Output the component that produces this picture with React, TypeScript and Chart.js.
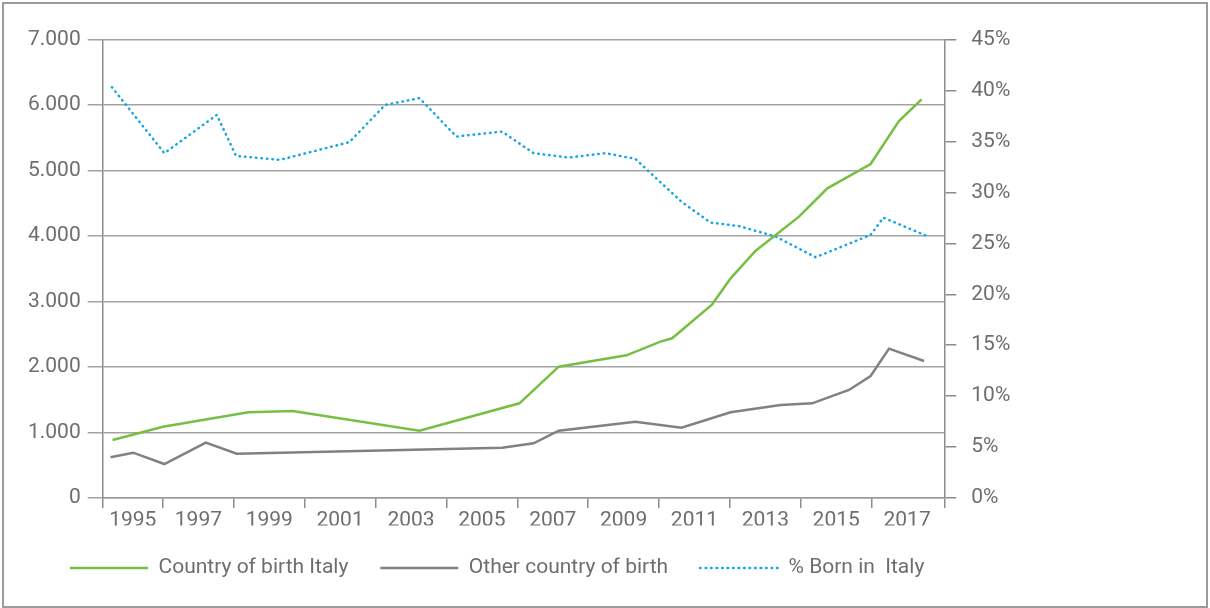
import React, { useEffect, useRef } from 'react';
import { Chart, registerables } from 'chart.js';

Chart.register(...registerables);

// Country of birth Italy (left axis)
const italyYears = [1994.58, 1996.0, 1998.41, 1999.66, 2003.24, 2006.06, 2007.17, 2009.08, 2010.04, 2010.37, 2011.5, 2012.02, 2012.72, 2013.95, 2014.75, 2015.97, 2016.77, 2017.41];
const italyValues = [886, 1089, 1309, 1329, 1028, 1446, 2006, 2179, 2388, 2439, 2958, 3355, 3773, 4297, 4730, 5101, 5758, 6090];

// Other country of birth (left axis)
const otherYears = [1994.52, 1995.16, 1996.04, 1997.21, 1998.08, 2005.57, 2006.46, 2007.17, 2009.33, 2010.63, 2012.02, 2013.43, 2014.32, 2015.36, 2015.97, 2016.49, 2017.48];
const otherValues = [621, 692, 519, 845, 677, 768, 835, 1028, 1166, 1074, 1309, 1420, 1446, 1650, 1863, 2281, 2093];

// % Born in Italy (right axis)
const shareYears = [1994.56, 1996.04, 1997.52, 1998.06, 1999.3, 2001.26, 2002.27, 2003.24, 2004.28, 2005.57, 2006.46, 2007.45, 2008.49, 2009.33, 2010.63, 2011.45, 2012.25, 2013.29, 2014.42, 2015.97, 2016.33, 2017.53];
const shareValues = [40.34, 33.86, 37.62, 33.6, 33.2, 34.94, 38.6, 39.26, 35.49, 35.98, 33.86, 33.43, 33.86, 33.3, 29.1, 27.05, 26.7, 25.67, 23.64, 25.83, 27.53, 25.77];

// Tick labels
const xLabelYears = [1995, 1997, 1999, 2001, 2003, 2005, 2007, 2009, 2011, 2013, 2015, 2017];
const xMarkYears = [1996, 1998, 2000, 2002, 2004, 2006, 2008, 2010, 2012, 2014, 2016];
const X_MIN = 1994.3;
const X_MAX = 2018.05;

const seriesLabels = ['Country of birth Italy', 'Other country of birth', '% Born in  Italy'];

const TEXT = '#6d6e71';
const FONT = 'Roboto, "DejaVu Sans", sans-serif';
const FONT_SIZE = 21;

const toPoints = (xs: number[], ys: number[]) => xs.map((x, i) => ({ x, y: ys[i] }));
const fmtThousands = (v: number) => String(v).replace(/\B(?=(\d{3})+(?!\d))/g, '.');

export default function App() {
  const ref = useRef<HTMLCanvasElement>(null);

  useEffect(() => {
    const legendShift = {
      id: 'legendShift',
      afterLayout(chart: any) {
        if (chart.legend) {
          chart.legend.left = 34;
        }
      },
    };

    const chart = new Chart(ref.current as HTMLCanvasElement, {
      type: 'line',
      data: {
        datasets: [
          {
            label: seriesLabels[0],
            data: toPoints(italyYears, italyValues),
            borderColor: '#77bf43',
            backgroundColor: '#77bf43',
            borderWidth: 2.5,
            pointRadius: 0,
            tension: 0,
            yAxisID: 'y',
          },
          {
            label: seriesLabels[1],
            data: toPoints(otherYears, otherValues),
            borderColor: '#808184',
            backgroundColor: '#808184',
            borderWidth: 2.5,
            pointRadius: 0,
            tension: 0,
            yAxisID: 'y',
          },
          {
            label: seriesLabels[2],
            data: toPoints(shareYears, shareValues),
            borderColor: '#0fa5e6',
            backgroundColor: '#0fa5e6',
            borderWidth: 2.5,
            borderDash: [0.5, 5],
            borderCapStyle: 'round',
            pointRadius: 0,
            tension: 0,
            yAxisID: 'y1',
          },
        ],
      },
      options: {
        animation: false,
        responsive: true,
        maintainAspectRatio: false,
        layout: { padding: { top: 35.7, left: 0, right: 0, bottom: 17.5 } },
        plugins: {
          tooltip: { enabled: false },
          legend: {
            position: 'bottom',
            align: 'start',
            labels: {
              usePointStyle: true,
              pointStyle: 'line',
              pointStyleWidth: 78,
              padding: 32,
              color: TEXT,
              font: { family: FONT, size: FONT_SIZE },
              generateLabels: (c: any) => {
                const items = Chart.defaults.plugins.legend.labels.generateLabels(c);
                return items.map((item: any) => {
                  const ds: any = c.data.datasets[item.datasetIndex];
                  return {
                    ...item,
                    strokeStyle: ds.borderColor,
                    fillStyle: ds.borderColor,
                    lineWidth: ds.datasetIndex === 1 ? 3 : ds.borderWidth,
                    lineDash: ds.borderDash || [],
                    lineCap: ds.borderCapStyle || 'butt',
                    fontColor: TEXT,
                  };
                });
              },
            },
          },
        },
        scales: {
          x: {
            type: 'linear',
            min: X_MIN,
            max: X_MAX,
            afterBuildTicks: (scale: any) => {
              const ticks: any[] = [{ value: X_MIN, isMark: true }];
              xLabelYears.forEach((yr) => {
                ticks.push({ value: Math.max(yr, (X_MIN + yr + 1) / 2), isMark: false, year: yr });
              });
              xMarkYears.forEach((yr) => ticks.push({ value: yr, isMark: true }));
              ticks.push({ value: X_MAX, isMark: true });
              ticks.sort((a, b) => a.value - b.value);
              scale.ticks = ticks;
            },
            afterFit: (scale: any) => {
              scale.height = 27.5;
            },
            ticks: {
              autoSkip: false,
              maxRotation: 0,
              minRotation: 0,
              padding: 0,
              color: TEXT,
              font: { family: FONT, size: FONT_SIZE },
              callback: function (value: any, index: number, ticks: any[]) {
                const t = ticks[index];
                return t && !t.isMark ? String(t.year ?? Math.round(value)) : '';
              },
            },
            grid: {
              drawOnChartArea: false,
              drawTicks: true,
              tickLength: 10,
              lineWidth: 1.5,
              color: (ctx: any) => (ctx.tick && ctx.tick.isMark ? '#8c8c8c' : 'rgba(0,0,0,0)'),
            },
            border: { display: true, color: '#9a9a9a', width: 1.5 },
          },
          y: {
            type: 'linear',
            position: 'left',
            min: 0,
            max: 7000,
            afterFit: (scale: any) => {
              scale.width = 98.7;
            },
            ticks: {
              stepSize: 1000,
              padding: 7,
              color: TEXT,
              font: { family: FONT, size: FONT_SIZE },
              callback: (v: any) => fmtThousands(Number(v)),
            },
            grid: {
              color: '#a3a3a3',
              lineWidth: 1.5,
              tickLength: 15,
            },
            border: { display: true, color: '#8c8c8c', width: 1.5 },
          },
          y1: {
            type: 'linear',
            position: 'right',
            min: 0,
            max: 45,
            afterFit: (scale: any) => {
              scale.width = 261.7;
            },
            ticks: {
              stepSize: 5,
              padding: 15,
              color: TEXT,
              font: { family: FONT, size: FONT_SIZE },
              callback: (v: any) => `${v}%`,
            },
            grid: {
              drawOnChartArea: false,
              color: '#8c8c8c',
              lineWidth: 1.5,
              tickLength: 12,
            },
            border: { display: true, color: '#8c8c8c', width: 1.5 },
          },
        },
      },
      plugins: [legendShift],
    } as any);

    return () => chart.destroy();
  }, []);

  return (
    <div
      style={{
        position: 'absolute',
        left: 2,
        top: 2,
        width: 1206,
        height: 606,
        border: '2px solid #9b9b9b',
        boxSizing: 'border-box',
        background: '#ffffff',
      }}
    >
      <div style={{ position: 'relative', width: 1202, height: 602 }}>
        <canvas ref={ref} />
      </div>
    </div>
  );
}
